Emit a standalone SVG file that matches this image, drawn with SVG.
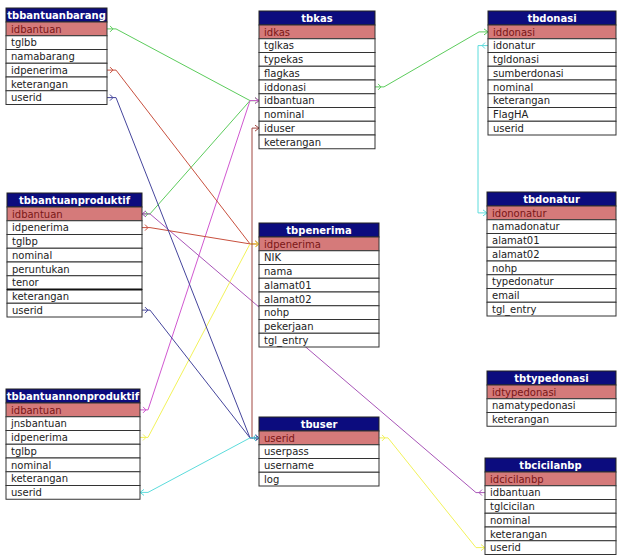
<svg xmlns="http://www.w3.org/2000/svg" width="618" height="556" viewBox="0 0 618 556">
<style>
.hd{fill:#0c0c7e;stroke:#222;stroke-width:1}
.pk{fill:#d57a7a;stroke:#333;stroke-width:1}
.rw{fill:#fff;stroke:#333;stroke-width:1}
.ht{font-family:"DejaVu Sans",sans-serif;font-size:10px;font-weight:bold;fill:#fff;text-anchor:middle}
.t{font-family:"DejaVu Sans",sans-serif;font-size:10px;fill:#222}
.tp{fill:#7a1616}
.c{fill:none;stroke-width:1}
.green{stroke:#5ccc5c}.red{stroke:#c8503e}.brown{stroke:#a04640}.blue{stroke:#45459c}
.mag{stroke:#d058d0}.purp{stroke:#a855b8}.yel{stroke:#f2f25a}.cyan{stroke:#5cdcdc}
</style>
<defs>
<marker id="sg" markerWidth="10" markerHeight="10" orient="auto" markerUnits="userSpaceOnUse" overflow="visible"><path class="c green" d="M3,-3 L6,0 L3,3"/></marker>
<marker id="eg" markerWidth="10" markerHeight="10" orient="auto" markerUnits="userSpaceOnUse" overflow="visible"><path class="c green" d="M-4,-3 L0,0 L-4,3"/></marker>
<marker id="sr" markerWidth="10" markerHeight="10" orient="auto" markerUnits="userSpaceOnUse" overflow="visible"><path class="c red" d="M3,-3 L6,0 L3,3"/></marker>
<marker id="er" markerWidth="10" markerHeight="10" orient="auto" markerUnits="userSpaceOnUse" overflow="visible"><path class="c red" d="M-4,-3 L0,0 L-4,3"/></marker>
<marker id="sbr" markerWidth="10" markerHeight="10" orient="auto" markerUnits="userSpaceOnUse" overflow="visible"><path class="c brown" d="M3,-3 L6,0 L3,3"/></marker>
<marker id="ebr" markerWidth="10" markerHeight="10" orient="auto" markerUnits="userSpaceOnUse" overflow="visible"><path class="c brown" d="M-4,-3 L0,0 L-4,3"/></marker>
<marker id="sb" markerWidth="10" markerHeight="10" orient="auto" markerUnits="userSpaceOnUse" overflow="visible"><path class="c blue" d="M3,-3 L6,0 L3,3"/></marker>
<marker id="eb" markerWidth="10" markerHeight="10" orient="auto" markerUnits="userSpaceOnUse" overflow="visible"><path class="c blue" d="M-4,-3 L0,0 L-4,3"/></marker>
<marker id="sm" markerWidth="10" markerHeight="10" orient="auto" markerUnits="userSpaceOnUse" overflow="visible"><path class="c mag" d="M3,-3 L6,0 L3,3"/></marker>
<marker id="em" markerWidth="10" markerHeight="10" orient="auto" markerUnits="userSpaceOnUse" overflow="visible"><path class="c mag" d="M-4,-3 L0,0 L-4,3"/></marker>
<marker id="sp" markerWidth="10" markerHeight="10" orient="auto" markerUnits="userSpaceOnUse" overflow="visible"><path class="c purp" d="M3,-3 L6,0 L3,3"/></marker>
<marker id="ep" markerWidth="10" markerHeight="10" orient="auto" markerUnits="userSpaceOnUse" overflow="visible"><path class="c purp" d="M-4,-3 L0,0 L-4,3"/></marker>
<marker id="sy" markerWidth="10" markerHeight="10" orient="auto" markerUnits="userSpaceOnUse" overflow="visible"><path class="c yel" d="M3,-3 L6,0 L3,3"/></marker>
<marker id="ey" markerWidth="10" markerHeight="10" orient="auto" markerUnits="userSpaceOnUse" overflow="visible"><path class="c yel" d="M-4,-3 L0,0 L-4,3"/></marker>
<marker id="sc" markerWidth="10" markerHeight="10" orient="auto" markerUnits="userSpaceOnUse" overflow="visible"><path class="c cyan" d="M3,-3 L6,0 L3,3"/></marker>
<marker id="ec" markerWidth="10" markerHeight="10" orient="auto" markerUnits="userSpaceOnUse" overflow="visible"><path class="c cyan" d="M-4,-3 L0,0 L-4,3"/></marker>
</defs>
<rect width="618" height="556" fill="#fff"/>
<g id="connectors">
<path class="c green" marker-start="url(#sg)" marker-end="url(#eg)" d="M107,28.9 H116 L250,100.6 H259"/>
<path class="c green" marker-start="url(#sg)" marker-end="url(#eg)" d="M142,213.9 H150 L250,100.6 H259"/>
<path class="c mag" marker-start="url(#sm)" marker-end="url(#em)" d="M140,409.9 H148 L250,100.6 H259"/>
<path class="c purp" marker-start="url(#sp)" marker-end="url(#ep)" d="M485,492.6 H476 L150,213.9 H142"/>
<path class="c red" marker-start="url(#sr)" marker-end="url(#er)" d="M107,70.1 H116 L250,243.9 H259"/>
<path class="c red" marker-start="url(#sr)" marker-end="url(#er)" d="M142,227.6 H150 L250,243.9 H259"/>
<path class="c yel" marker-start="url(#sy)" marker-end="url(#ey)" d="M140,437.4 H148 L250,243.9 H259"/>
<path class="c brown" marker-start="url(#sbr)" marker-end="url(#ebr)" d="M259,437.9 H252 V128.1 H259"/>
<path class="c blue" marker-start="url(#sb)" marker-end="url(#eb)" d="M107,97.6 H116 L250,437.9 H259"/>
<path class="c blue" marker-start="url(#sb)" marker-end="url(#eb)" d="M142,310.1 H150 L250,437.9 H259"/>
<path class="c cyan" marker-start="url(#sc)" marker-end="url(#ec)" d="M259,437.9 H250 L148,492.4 H140"/>
<path class="c green" marker-start="url(#sg)" marker-end="url(#eg)" d="M375,86.9 H384 L479,31.9 H488"/>
<path class="c cyan" marker-start="url(#sc)" marker-end="url(#ec)" d="M488,45.6 H478 V212.9 H487"/>
<path class="c yel" marker-start="url(#sy)" marker-end="url(#ey)" d="M379,437.9 H388 L476,547.6 H485"/>
</g>
<g id="tbbantuanbarang">
<rect class="hd" x="6" y="8" width="101" height="14"/><text class="ht" x="56.5" y="19">tbbantuanbarang</text>
<rect class="pk" x="6" y="22" width="101" height="13.75"/><text class="t tp" x="11" y="32.5">idbantuan</text>
<rect class="rw" x="6" y="35.75" width="101" height="13.75"/><text class="t" x="11" y="46.25">tglbb</text>
<rect class="rw" x="6" y="49.5" width="101" height="13.75"/><text class="t" x="11" y="60">namabarang</text>
<rect class="rw" x="6" y="63.25" width="101" height="13.75"/><text class="t" x="11" y="73.75">idpenerima</text>
<rect class="rw" x="6" y="77" width="101" height="13.75"/><text class="t" x="11" y="87.5">keterangan</text>
<rect class="rw" x="6" y="90.75" width="101" height="13.75"/><text class="t" x="11" y="101.25">userid</text>
</g>
<g id="tbkas">
<rect class="hd" x="259" y="11" width="116" height="14"/><text class="ht" x="317" y="22">tbkas</text>
<rect class="pk" x="259" y="25" width="116" height="13.75"/><text class="t tp" x="264" y="35.5">idkas</text>
<rect class="rw" x="259" y="38.75" width="116" height="13.75"/><text class="t" x="264" y="49.25">tglkas</text>
<rect class="rw" x="259" y="52.5" width="116" height="13.75"/><text class="t" x="264" y="63">typekas</text>
<rect class="rw" x="259" y="66.25" width="116" height="13.75"/><text class="t" x="264" y="76.75">flagkas</text>
<rect class="rw" x="259" y="80" width="116" height="13.75"/><text class="t" x="264" y="90.5">iddonasi</text>
<rect class="rw" x="259" y="93.75" width="116" height="13.75"/><text class="t" x="264" y="104.25">idbantuan</text>
<rect class="rw" x="259" y="107.5" width="116" height="13.75"/><text class="t" x="264" y="118">nominal</text>
<rect class="rw" x="259" y="121.25" width="116" height="13.75"/><text class="t" x="264" y="131.75">iduser</text>
<rect class="rw" x="259" y="135" width="116" height="13.75"/><text class="t" x="264" y="145.5">keterangan</text>
</g>
<g id="tbdonasi">
<rect class="hd" x="488" y="11" width="128" height="14"/><text class="ht" x="552" y="22">tbdonasi</text>
<rect class="pk" x="488" y="25" width="128" height="13.75"/><text class="t tp" x="493" y="35.5">iddonasi</text>
<rect class="rw" x="488" y="38.75" width="128" height="13.75"/><text class="t" x="493" y="49.25">idonatur</text>
<rect class="rw" x="488" y="52.5" width="128" height="13.75"/><text class="t" x="493" y="63">tgldonasi</text>
<rect class="rw" x="488" y="66.25" width="128" height="13.75"/><text class="t" x="493" y="76.75">sumberdonasi</text>
<rect class="rw" x="488" y="80" width="128" height="13.75"/><text class="t" x="493" y="90.5">nominal</text>
<rect class="rw" x="488" y="93.75" width="128" height="13.75"/><text class="t" x="493" y="104.25">keterangan</text>
<rect class="rw" x="488" y="107.5" width="128" height="13.75"/><text class="t" x="493" y="118">FlagHA</text>
<rect class="rw" x="488" y="121.25" width="128" height="13.75"/><text class="t" x="493" y="131.75">userid</text>
</g>
<g id="tbbantuanproduktif">
<rect class="hd" x="7" y="193" width="135" height="14"/><text class="ht" x="74.5" y="204">tbbantuanproduktif</text>
<rect class="pk" x="7" y="207" width="135" height="13.75"/><text class="t tp" x="12" y="217.5">idbantuan</text>
<rect class="rw" x="7" y="220.75" width="135" height="13.75"/><text class="t" x="12" y="231.25">idpenerima</text>
<rect class="rw" x="7" y="234.5" width="135" height="13.75"/><text class="t" x="12" y="245">tglbp</text>
<rect class="rw" x="7" y="248.25" width="135" height="13.75"/><text class="t" x="12" y="258.75">nominal</text>
<rect class="rw" x="7" y="262" width="135" height="13.75"/><text class="t" x="12" y="272.5">peruntukan</text>
<rect class="rw" x="7" y="275.75" width="135" height="13.75"/><text class="t" x="12" y="286.25">tenor</text>
<rect class="rw" x="7" y="289.5" width="135" height="13.75"/><text class="t" x="12" y="300">keterangan</text>
<rect class="rw" x="7" y="303.25" width="135" height="13.75"/><text class="t" x="12" y="313.75">userid</text>
<line x1="7" y1="289.5" x2="142" y2="289.5" stroke="#111" stroke-width="2"/>
</g>
<g id="tbpenerima">
<rect class="hd" x="259" y="223" width="120" height="14"/><text class="ht" x="319" y="234">tbpenerima</text>
<rect class="pk" x="259" y="237" width="120" height="13.75"/><text class="t tp" x="264" y="247.5">idpenerima</text>
<rect class="rw" x="259" y="250.75" width="120" height="13.75"/><text class="t" x="264" y="261.25">NIK</text>
<rect class="rw" x="259" y="264.5" width="120" height="13.75"/><text class="t" x="264" y="275">nama</text>
<rect class="rw" x="259" y="278.25" width="120" height="13.75"/><text class="t" x="264" y="288.75">alamat01</text>
<rect class="rw" x="259" y="292" width="120" height="13.75"/><text class="t" x="264" y="302.5">alamat02</text>
<rect class="rw" x="259" y="305.75" width="120" height="13.75"/><text class="t" x="264" y="316.25">nohp</text>
<rect class="rw" x="259" y="319.5" width="120" height="13.75"/><text class="t" x="264" y="330">pekerjaan</text>
<rect class="rw" x="259" y="333.25" width="120" height="13.75"/><text class="t" x="264" y="343.75">tgl_entry</text>
</g>
<g id="tbdonatur">
<rect class="hd" x="487" y="192" width="129" height="14"/><text class="ht" x="551.5" y="203">tbdonatur</text>
<rect class="pk" x="487" y="206" width="129" height="13.75"/><text class="t tp" x="492" y="216.5">idononatur</text>
<rect class="rw" x="487" y="219.75" width="129" height="13.75"/><text class="t" x="492" y="230.25">namadonatur</text>
<rect class="rw" x="487" y="233.5" width="129" height="13.75"/><text class="t" x="492" y="244">alamat01</text>
<rect class="rw" x="487" y="247.25" width="129" height="13.75"/><text class="t" x="492" y="257.75">alamat02</text>
<rect class="rw" x="487" y="261" width="129" height="13.75"/><text class="t" x="492" y="271.5">nohp</text>
<rect class="rw" x="487" y="274.75" width="129" height="13.75"/><text class="t" x="492" y="285.25">typedonatur</text>
<rect class="rw" x="487" y="288.5" width="129" height="13.75"/><text class="t" x="492" y="299">email</text>
<rect class="rw" x="487" y="302.25" width="129" height="13.75"/><text class="t" x="492" y="312.75">tgl_entry</text>
</g>
<g id="tbbantuannonproduktif">
<rect class="hd" x="6" y="389" width="134" height="14"/><text class="ht" x="73" y="400">tbbantuannonproduktif</text>
<rect class="pk" x="6" y="403" width="134" height="13.75"/><text class="t tp" x="11" y="413.5">idbantuan</text>
<rect class="rw" x="6" y="416.75" width="134" height="13.75"/><text class="t" x="11" y="427.25">jnsbantuan</text>
<rect class="rw" x="6" y="430.5" width="134" height="13.75"/><text class="t" x="11" y="441">idpenerima</text>
<rect class="rw" x="6" y="444.25" width="134" height="13.75"/><text class="t" x="11" y="454.75">tglbp</text>
<rect class="rw" x="6" y="458" width="134" height="13.75"/><text class="t" x="11" y="468.5">nominal</text>
<rect class="rw" x="6" y="471.75" width="134" height="13.75"/><text class="t" x="11" y="482.25">keterangan</text>
<rect class="rw" x="6" y="485.5" width="134" height="13.75"/><text class="t" x="11" y="496">userid</text>
</g>
<g id="tbuser">
<rect class="hd" x="259" y="417" width="120" height="14"/><text class="ht" x="319" y="428">tbuser</text>
<rect class="pk" x="259" y="431" width="120" height="13.75"/><text class="t tp" x="264" y="441.5">userid</text>
<rect class="rw" x="259" y="444.75" width="120" height="13.75"/><text class="t" x="264" y="455.25">userpass</text>
<rect class="rw" x="259" y="458.5" width="120" height="13.75"/><text class="t" x="264" y="469">username</text>
<rect class="rw" x="259" y="472.25" width="120" height="13.75"/><text class="t" x="264" y="482.75">log</text>
</g>
<g id="tbtypedonasi">
<rect class="hd" x="487" y="371" width="129" height="14"/><text class="ht" x="551.5" y="382">tbtypedonasi</text>
<rect class="pk" x="487" y="385" width="129" height="13.75"/><text class="t tp" x="492" y="395.5">idtypedonasi</text>
<rect class="rw" x="487" y="398.75" width="129" height="13.75"/><text class="t" x="492" y="409.25">namatypedonasi</text>
<rect class="rw" x="487" y="412.5" width="129" height="13.75"/><text class="t" x="492" y="423">keterangan</text>
</g>
<g id="tbcicilanbp">
<rect class="hd" x="485" y="458" width="131" height="14"/><text class="ht" x="550.5" y="469">tbcicilanbp</text>
<rect class="pk" x="485" y="472" width="131" height="13.75"/><text class="t tp" x="490" y="482.5">idcicilanbp</text>
<rect class="rw" x="485" y="485.75" width="131" height="13.75"/><text class="t" x="490" y="496.25">idbantuan</text>
<rect class="rw" x="485" y="499.5" width="131" height="13.75"/><text class="t" x="490" y="510">tglcicilan</text>
<rect class="rw" x="485" y="513.25" width="131" height="13.75"/><text class="t" x="490" y="523.75">nominal</text>
<rect class="rw" x="485" y="527" width="131" height="13.75"/><text class="t" x="490" y="537.5">keterangan</text>
<rect class="rw" x="485" y="540.75" width="131" height="13.75"/><text class="t" x="490" y="551.25">userid</text>
</g>
</svg>
